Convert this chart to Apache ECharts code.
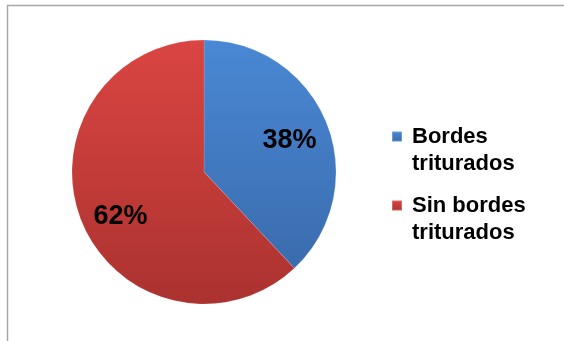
<!DOCTYPE html>
<html>
<head>
<meta charset="utf-8">
<script src="https://cdn.jsdelivr.net/npm/echarts@6/dist/echarts.min.js"></script>
<style>
  html, body { margin: 0; padding: 0; background: #fff; }
  #chart { width: 564px; height: 341px; }
</style>
</head>
<body>
<div id="chart"></div>
<script>
// Share of pieces with and without crushed edges
const categories = ['Bordes\ntriturados', 'Sin bordes\ntriturados'];
const shares = [38, 62];

// Top/bottom shades for each slice
const topColors = ['#4a88d4', '#da4542'];
const bottomColors = ['#3a6cae', '#ab322f'];

const FONT = '"Liberation Sans", Arial, sans-serif';
const center = [204, 172];
const R = 132;

function shade(i) {
  return new echarts.graphic.LinearGradient(0, 0, 0, 1, [
    { offset: 0, color: topColors[i] },
    { offset: 1, color: bottomColors[i] }
  ]);
}

const sliceData = categories.map((name, i) => ({
  name: name,
  value: shares[i],
  itemStyle: { color: shade(i) }
}));

// Label-only ring: its "inside" position sits at ~0.69 of the visible radius
const labelData = categories.map((name, i) => ({
  name: name,
  value: shares[i],
  label: i === 1 ? { offset: [4, 10] } : { offset: [-2, 3] }
}));

const chart = echarts.init(document.getElementById('chart'), null, { renderer: 'canvas' });
chart.setOption({
  animation: false,
  backgroundColor: '#ffffff',
  graphic: [{
    type: 'polyline',
    shape: { points: [[7.5, 341], [7.5, 5.5], [564, 5.5]] },
    style: { fill: 'none', stroke: '#a6a6a6', lineWidth: 1.5 },
    silent: true
  }],
  legend: {
    orient: 'vertical',
    left: 391,
    top: 96,
    padding: 0,
    itemWidth: 10,
    itemHeight: 10,
    itemGap: -12,
    icon: 'rect',
    data: categories,
    // leading blank line keeps the marker level with the first text line
    formatter: name => '\n' + name,
    textStyle: {
      fontFamily: FONT,
      fontWeight: 'bold',
      fontSize: 22,
      lineHeight: 27,
      color: '#000',
      padding: [0, 0, 0, 5]
    },
    selectedMode: false
  },
  series: [
    {
      type: 'pie',
      center: center,
      radius: [0, R],
      startAngle: 90,
      clockwise: true,
      data: sliceData,
      label: { show: false },
      labelLine: { show: false },
      itemStyle: { borderColor: 'rgba(255,255,255,0.25)', borderWidth: 0.5 },
      silent: true
    },
    {
      type: 'pie',
      center: center,
      radius: [0, R * 1.38],
      startAngle: 90,
      clockwise: true,
      data: labelData,
      itemStyle: { color: 'rgba(0,0,0,0)' },
      label: {
        show: true,
        position: 'inside',
        formatter: '{c}%',
        fontFamily: FONT,
        fontWeight: 'bold',
        fontSize: 27,
        color: '#000'
      },
      labelLine: { show: false },
      legendHoverLink: false,
      silent: true
    }
  ]
});
</script>
</body>
</html>
